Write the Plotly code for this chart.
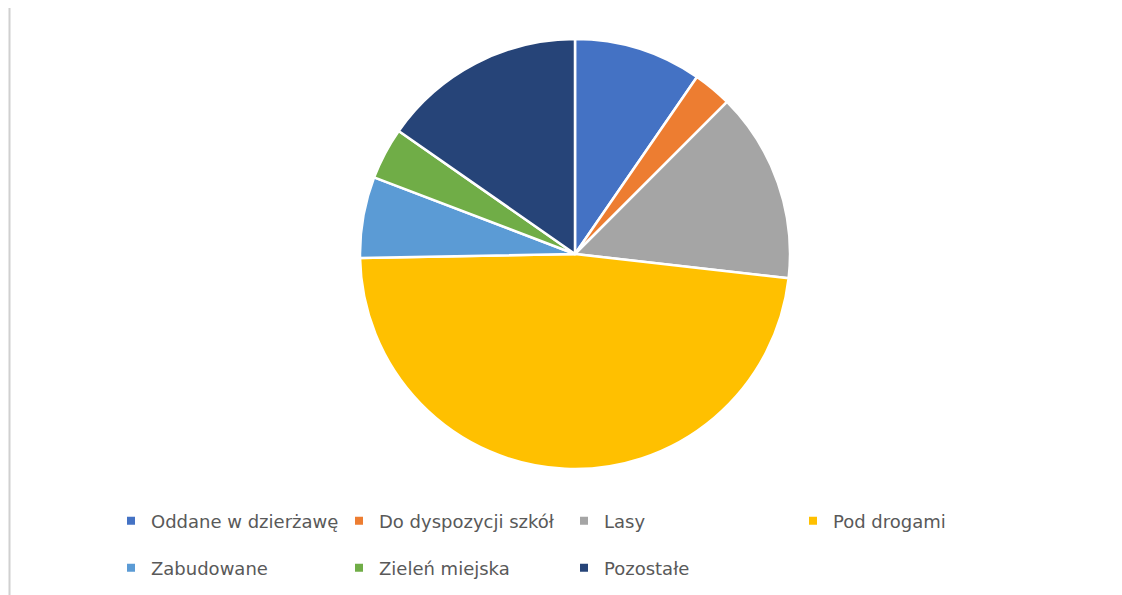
import plotly.graph_objects as go

labels = ["Oddane w dzierżawę", "Do dyspozycji szkół", "Lasy", "Pod drogami",
          "Zabudowane", "Zieleń miejska", "Pozostałe"]
values = [9.6, 2.9, 14.3, 47.9, 6.1, 3.9, 15.3]
colors = ["#4472C4", "#ED7D31", "#A5A5A5", "#FFC000", "#5B9BD5", "#70AD47", "#264478"]

W, H = 1122, 595
OFF = 8  # page body margin
# legend item marker centres (px) in reference
leg_pos = [(135, 521), (363, 521), (588, 521), (817, 521),
           (135, 568), (363, 568), (588, 568)]

cx, cy, r = 575 - OFF, 254 - OFF, 215

fig = go.Figure()
fig.add_trace(go.Pie(
    labels=labels, values=values, sort=False, direction="clockwise", rotation=0,
    marker=dict(colors=colors, line=dict(color="white", width=2.5)),
    textinfo="none", showlegend=False, hoverinfo="label+percent",
    domain=dict(x=[(cx - r) / W, (cx + r) / W], y=[1 - (cy + r) / H, 1 - (cy - r) / H]),
))

font = dict(family="DejaVu Sans, sans-serif", size=18, color="#595959")
layout_legends = {}
for i, (lab, col) in enumerate(zip(labels, colors)):
    key = "legend" if i == 0 else f"legend{i+1}"
    fig.add_trace(go.Scatter(
        x=[None], y=[None], mode="markers", name=lab,
        marker=dict(symbol="square", size=8, color=col),
        legend=key, showlegend=True, xaxis="x", yaxis="y"))
    px, py = leg_pos[i]
    layout_legends[key] = dict(
        x=(px - OFF - 24) / W, y=1 - (py - OFF) / H, xanchor="left", yanchor="middle",
        bgcolor="rgba(0,0,0,0)", font=font, borderwidth=0)

fig.update_layout(
    width=W, height=H, margin=dict(l=0, r=0, t=0, b=0),
    paper_bgcolor="white", plot_bgcolor="white",
    xaxis=dict(visible=False), yaxis=dict(visible=False),
    font=font, **layout_legends,
    shapes=[dict(type="line", xref="paper", yref="paper", x0=1.5 / W, x1=1.5 / W, y0=0, y1=1,
                 line=dict(color="#D0D0D0", width=2))],
)
fig.write_html("out.html")
